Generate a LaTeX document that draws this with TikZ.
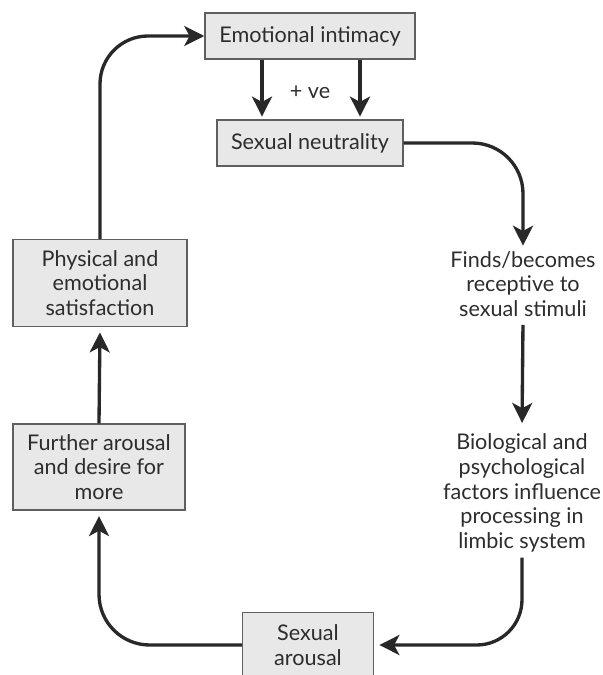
\documentclass[tikz,border=0pt]{standalone}
\usepackage{fontspec}
\setmainfont{Lato}
\usepackage{tikz}
\usetikzlibrary{arrows.meta}

\begin{document}
\begin{tikzpicture}[x=0.75pt,y=0.75pt,yscale=-1,
  stagebox/.style={draw={rgb, 255:red, 95; green, 95; blue, 95 },line width=1.1pt,fill={rgb, 255:red, 232; green, 232; blue, 232 },text={rgb, 255:red, 45; green, 45; blue, 45 },align=center,inner sep=0pt,font=\fontsize{16.2}{18.5}\selectfont},
  stagetext/.style={align=center,inner sep=4pt,text={rgb, 255:red, 45; green, 45; blue, 45 },font=\fontsize{16.2}{18.5}\selectfont},
  flow/.style={draw={rgb, 255:red, 40; green, 40; blue, 40 },line width=2.5pt,-{Stealth[length=15pt,width=15pt,inset=4pt]}}]
\useasboundingbox (0,0) rectangle (603,675);

% Boxes
\node[stagebox,minimum width=157.5pt,minimum height=34.5pt] (intimacy) at (310,36) {Emotional intimacy};
\node[stagebox,minimum width=139.5pt,minimum height=34.5pt] (neutral) at (310,143) {Sexual neutrality};
\node[stagebox,minimum width=98pt,minimum height=49pt] (arousal) at (308,645) {Sexual\\arousal};
\node[stagebox,minimum width=129pt,minimum height=64.5pt] (further) at (99,467) {Further arousal\\and desire for\\more};
\node[stagebox,minimum width=130.5pt,minimum height=65pt] (phys) at (100,283) {Physical and\\emotional\\satisfaction};

% Text Node
\node[stagetext] (finds) at (523,284) {Finds/becomes\\receptive to\\sexual stimuli};
% Text Node
\node[stagetext] (bio) at (522,493) {Biological and\\psychological\\factors influence\\processing in\\limbic system};
% Text Node
\node[stagetext] (ve) at (310,92) {+ ve};

% Connectors
\draw[flow,shorten >=2pt] ([xshift=-36pt]intimacy.south) -- ([xshift=-36pt]intimacy.south |- neutral.north);
\draw[flow,shorten >=2pt] ([xshift=37.5pt]intimacy.south) -- ([xshift=37.5pt]intimacy.south |- neutral.north);
\draw[flow,rounded corners=38pt] (neutral.east) -| (finds.north);
\draw[flow,shorten <=2pt,shorten >=4pt] (finds.south) -- (bio.north);
\draw[flow,rounded corners=34pt,shorten >=4pt] (bio.south) |- (arousal.east);
\draw[flow,rounded corners=38pt,shorten >=4pt] (arousal.west) -| (further.south);
\draw[flow,shorten >=4pt] (further.north) -- (phys.south);
\draw[flow,rounded corners=36pt] (phys.north) |- (intimacy.west);

\end{tikzpicture}
\end{document}
